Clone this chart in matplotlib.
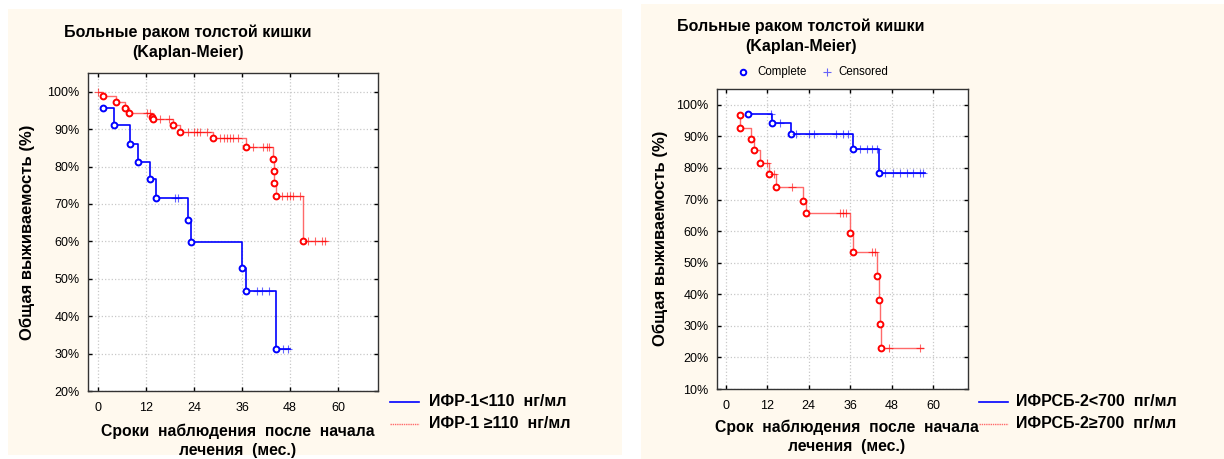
import numpy as np
import matplotlib.pyplot as plt
from matplotlib.patches import Rectangle
from matplotlib.lines import Line2D

plt.rcParams['font.family'] = ['Liberation Sans', 'DejaVu Sans']

# ---------------- data ----------------
# Left panel: IGF-1 groups
L_low_start = (1.3, 95.6)
L_low_t = [1.3, 4.1, 8.0, 10.1, 12.9, 14.4, 22.6, 23.3, 36.1, 36.9, 44.4]
L_low_s = [95.6, 91.0, 86.0, 81.3, 76.7, 71.6, 65.7, 59.7, 53.0, 46.7, 31.1]
L_low_cens = [19.3, 20.0, 39.7, 41.0, 42.8, 46.3, 47.6]
L_low_end = 48.0

L_high_start = (0.0, 100.0)
L_high_t = [1.3, 4.5, 6.8, 7.7, 13.4, 13.7, 18.8, 20.5, 28.8, 36.9,
            43.7, 43.95, 44.05, 44.5, 51.3]
L_high_s = [98.9, 97.3, 95.7, 94.4, 93.3, 92.7, 91.1, 89.3, 87.7, 85.1,
            82.0, 78.8, 75.5, 72.1, 60.2]
L_high_cens = [0.0, 12.2, 13.0, 15.5, 17.8, 22.6, 24.0, 24.7, 25.5, 27.2,
               30.5, 31.5, 32.2, 33.0, 33.8, 35.1, 38.8, 41.3, 42.2, 42.8,
               46.0, 47.2, 48.0, 48.8, 50.5, 52.6, 54.2, 55.9, 56.7]
L_high_end = 57.0

# Right panel: IGFBP-2 groups
R_low_start = (6.5, 97.2)
R_low_t = [6.5, 13.5, 18.8, 36.8, 44.2]
R_low_s = [97.2, 94.2, 90.6, 86.1, 78.5]
R_low_cens = [13.0, 15.6, 20.4, 24.1, 25.5, 32.0, 33.9, 35.4, 38.8, 40.7,
              42.2, 43.6, 45.9, 48.4, 50.3, 52.3, 54.2, 56.1, 57.0]
R_low_end = 57.6

R_high_start = (4.2, 96.8)
R_high_t = [4.2, 4.25, 7.3, 8.1, 10.0, 12.5, 14.4, 22.2, 23.3, 35.9, 36.8,
            43.8, 44.3, 44.45, 44.8]
R_high_s = [96.8, 92.7, 89.3, 85.6, 81.6, 78.0, 74.0, 69.5, 65.6, 59.3, 53.3,
            45.8, 38.2, 30.6, 23.1]
R_high_cens = [11.8, 13.9, 19.3, 33.0, 33.9, 34.9, 42.2, 43.1, 47.3, 56.1]
R_high_end = 57.1

x_ticks = [0, 12, 24, 36, 48, 60]
L_y_ticks = [20, 30, 40, 50, 60, 70, 80, 90, 100]
R_y_ticks = [10, 20, 30, 40, 50, 60, 70, 80, 90, 100]

title_text = "Больные раком толстой кишки\n(Kaplan-Meier)"
ylabel_text = "Общая выживаемость (%)"
L_xlabel = "Сроки  наблюдения  после  начала\nлечения  (мес.)"
R_xlabel = "Срок  наблюдения  после  начала\nлечения  (мес.)"
L_leg = ["ИФР-1<110  нг/мл", "ИФР-1 ≥110  нг/мл"]
R_leg = ["ИФРСБ-2<700  пг/мл", "ИФРСБ-2≥700  пг/мл"]

# ---------------- figure ----------------
W, H = 1224, 459
fig = plt.figure(figsize=(W / 100, H / 100), dpi=100)
fig.patch.set_facecolor('white')

def fx(px):
    return px / W

def fy(py):
    return 1 - py / H

CREAM = '#fff9ee'
fig.add_artist(Rectangle((fx(8), fy(455)), fx(622) - fx(8), fy(9) - fy(455),
                         transform=fig.transFigure, facecolor=CREAM, edgecolor='none', zorder=0))
fig.add_artist(Rectangle((fx(641), fy(459)), fx(1224) - fx(641), fy(4) - fy(459),
                         transform=fig.transFigure, facecolor=CREAM, edgecolor='none', zorder=0))

BLUE = '#0000ff'
RED = '#ff0000'
RED_LINE = '#ff6a6a'


def step_xy(start, ts, ss, end):
    xs = [start[0]]
    ys = [start[1]]
    cur = start[1]
    for t, s in zip(ts, ss):
        xs += [t, t]
        ys += [cur, s]
        cur = s
    xs.append(end)
    ys.append(cur)
    return xs, ys


def level_at(start, ts, ss, t):
    cur = start[1]
    for ti, si in zip(ts, ss):
        if t >= ti:
            cur = si
    return cur


def draw_series(ax, start, ts, ss, cens, end, lcol, mcol, lw, ls):
    xs, ys = step_xy(start, ts, ss, end)
    ax.plot(xs, ys, color=lcol, lw=lw, ls=ls, zorder=3)
    ax.plot(ts, ss, 'o', ms=4.2, mfc='white', mec=mcol, mew=1.4, zorder=4)
    cy = [level_at(start, ts, ss, c) for c in cens]
    ax.plot(cens, cy, '+', ms=6, mew=0.8, color=mcol, alpha=0.6, zorder=4)


def setup_axes(ax, yticks, ylo):
    ax.set_facecolor('white')
    ax.set_xlim(-2.5, 70)
    ax.set_ylim(ylo, 105)
    ax.set_xticks(x_ticks)
    ax.set_yticks(yticks)
    ax.set_yticklabels([f"{v}%" for v in yticks])
    ax.tick_params(direction='in', length=3, width=1, labelsize=9,
                   top=True, right=True, pad=6, colors='black')
    ax.tick_params(axis='x', pad=8)
    ax.grid(True, color='#c8c8c8', ls=':', lw=0.9)
    for sp in ax.spines.values():
        sp.set_color('#333333')
        sp.set_linewidth(1.0)


# Left axes
axL = fig.add_axes([fx(88), fy(391), fx(378) - fx(88), fy(73) - fy(391)])
setup_axes(axL, L_y_ticks, 20)
draw_series(axL, L_high_start, L_high_t, L_high_s, L_high_cens, L_high_end,
            RED_LINE, RED, 1.0, '-')
draw_series(axL, L_low_start, L_low_t, L_low_s, L_low_cens, L_low_end,
            BLUE, BLUE, 1.2, '-')

# Right axes
axR = fig.add_axes([fx(717), fy(389), fx(968) - fx(717), fy(89) - fy(389)])
setup_axes(axR, R_y_ticks, 10)
draw_series(axR, R_high_start, R_high_t, R_high_s, R_high_cens, R_high_end,
            RED_LINE, RED, 1.0, '-')
draw_series(axR, R_low_start, R_low_t, R_low_s, R_low_cens, R_low_end,
            BLUE, BLUE, 1.2, '-')

# Titles
fig.text(fx(188), fy(42), title_text, ha='center', va='center', fontsize=11.5,
         fontweight='bold', linespacing=1.45)
fig.text(fx(801), fy(36), title_text, ha='center', va='center', fontsize=11.5,
         fontweight='bold', linespacing=1.45)

# Complete / Censored legend (right)
fig.add_artist(Line2D([fx(743)], [fy(72)], marker='o', ms=4, mfc='white', mec=BLUE,
                      mew=1.4, ls='none', transform=fig.transFigure))
fig.text(fx(757), fy(72), "Complete", ha='left', va='center', fontsize=8.3)
fig.add_artist(Line2D([fx(827)], [fy(72)], marker='+', ms=6, mew=0.8, color=BLUE,
                      alpha=0.6, ls='none', transform=fig.transFigure))
fig.text(fx(838), fy(72), "Censored", ha='left', va='center', fontsize=8.3)

# Y labels
fig.text(fx(27), fy(232), ylabel_text, rotation=90, ha='center', va='center',
         fontsize=12, fontweight='bold')
fig.text(fx(660), fy(238), ylabel_text, rotation=90, ha='center', va='center',
         fontsize=12, fontweight='bold')

# X labels
fig.text(fx(238), fy(441), L_xlabel, ha='center', va='center', fontsize=11.3,
         fontweight='bold', linespacing=1.3)
fig.text(fx(847), fy(437), R_xlabel, ha='center', va='center', fontsize=11.3,
         fontweight='bold', linespacing=1.3)

# Group legends
for (x0, x1, tx, labels) in [(390, 419, 429, L_leg), (979, 1008, 1016, R_leg)]:
    fig.add_artist(Line2D([fx(x0), fx(x1)], [fy(402), fy(402)], color=BLUE, lw=1.2,
                          transform=fig.transFigure))
    fig.add_artist(Line2D([fx(x0), fx(x1)], [fy(424), fy(424)], color=RED_LINE, lw=1.0,
                          ls=(0, (1, 0.6)), transform=fig.transFigure))
    fig.text(fx(tx), fy(402), labels[0], ha='left', va='center', fontsize=11.5,
             fontweight='bold')
    fig.text(fx(tx), fy(424), labels[1], ha='left', va='center', fontsize=11.5,
             fontweight='bold')

fig.savefig('out.png', dpi=100, facecolor=fig.get_facecolor())
